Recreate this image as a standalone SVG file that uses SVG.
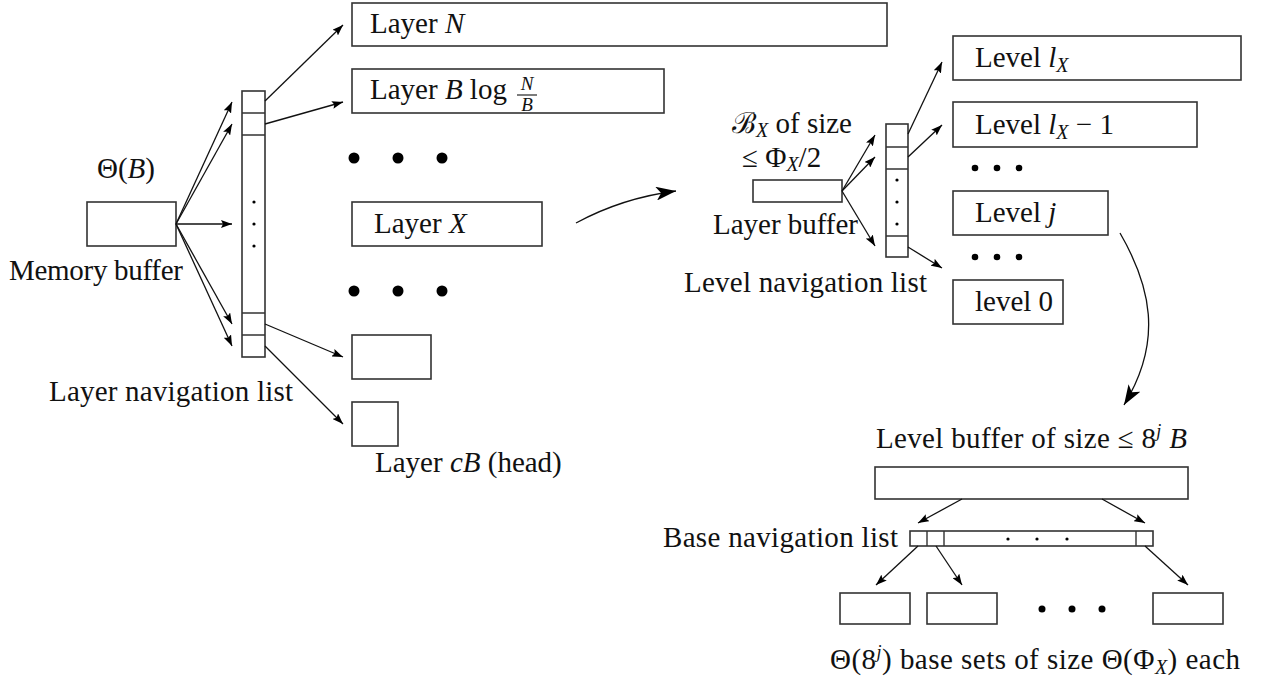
<svg xmlns="http://www.w3.org/2000/svg" width="1268" height="679" viewBox="0 0 1268 679">
<style>
text{font-family:"Liberation Serif","Times New Roman","DejaVu Serif",serif;font-size:29px;fill:#111}
.i{font-style:italic}
.sub{font-style:italic;font-size:20px}
.sup{font-style:italic;font-size:18px}
.frac{font-style:italic;font-size:19px}
.box{fill:#fff;stroke:#333;stroke-width:1.6}
.cell{fill:none;stroke:#333;stroke-width:1.4}
.ln{fill:none;stroke:#111;stroke-width:1.3}
.dot{fill:#000}
</style>
<defs>
<marker id="ah" viewBox="0 0 11 8" refX="11" refY="4" markerWidth="11" markerHeight="8" markerUnits="userSpaceOnUse" orient="auto"><path d="M0,0 L11,4 L0,8 L2,4 z" fill="#000"/></marker>
<marker id="big" viewBox="0 0 20 14" refX="20" refY="7" markerWidth="20" markerHeight="14" markerUnits="userSpaceOnUse" orient="auto"><path d="M0,0 L20,7 L0,14 L5,7 z" fill="#000"/></marker>
</defs>

<g id="memory-buffer">
<rect class="box" x="87" y="202" width="89" height="44"/>
<text x="97" y="178">Θ(<tspan class="i">B</tspan>)</text>
<text x="9" y="280" textLength="174">Memory buffer</text>
</g>

<g id="layer-navigation-list">
<rect class="box" x="242" y="91" width="23" height="266"/>
<path class="cell" d="M242,113H265M242,135H265M242,313H265M242,335H265"/>
<circle class="dot" cx="254" cy="202" r="1.6"/>
<circle class="dot" cx="254" cy="224" r="1.6"/>
<circle class="dot" cx="254" cy="246" r="1.6"/>
<text x="49" y="401" textLength="244">Layer navigation list</text>
</g>

<g id="layer-n">
<rect class="box" x="352" y="3" width="535" height="43"/>
<text x="370" y="33">Layer <tspan class="i">N</tspan></text>
</g>

<g id="layer-blog">
<rect class="box" x="352" y="69" width="312" height="44"/>
<text x="370" y="99">Layer <tspan class="i">B</tspan> log</text>
<text x="527" y="90" text-anchor="middle" class="frac">N</text>
<line x1="517" y1="95" x2="537" y2="95" stroke="#111" stroke-width="1.1"/>
<text x="527" y="111" text-anchor="middle" class="frac">B</text>
</g>

<g id="dots-layers">
<circle class="dot" cx="354" cy="158" r="5.5"/>
<circle class="dot" cx="398" cy="158" r="5.5"/>
<circle class="dot" cx="442" cy="158" r="5.5"/>
<circle class="dot" cx="354" cy="291" r="5.5"/>
<circle class="dot" cx="398" cy="291" r="5.5"/>
<circle class="dot" cx="442" cy="291" r="5.5"/>
</g>

<g id="layer-x">
<rect class="box" x="352" y="202" width="190" height="44"/>
<text x="374" y="233">Layer <tspan class="i">X</tspan></text>
</g>

<g id="layer-small">
<rect class="box" x="352" y="335" width="79" height="44"/>
</g>

<g id="layer-cb">
<rect class="box" x="352" y="402" width="46" height="44"/>
<text x="375" y="472">Layer <tspan class="i">cB</tspan> (head)</text>
</g>

<g id="layer-buffer">
<rect class="box" x="753" y="180" width="89" height="22"/>
<text x="732" y="133">ℬ<tspan class="sub" dy="4">X</tspan><tspan dy="-4"> of size</tspan></text>
<text x="742" y="167">≤ Φ<tspan class="sub" dy="4">X</tspan><tspan dy="-4">/2</tspan></text>
<text x="713" y="234" textLength="145">Layer buffer</text>
</g>

<g id="level-navigation-list">
<rect class="box" x="886" y="124" width="22" height="133"/>
<path class="cell" d="M886,147H908M886,169H908M886,236H908"/>
<circle class="dot" cx="897" cy="180" r="1.6"/>
<circle class="dot" cx="897" cy="202" r="1.6"/>
<circle class="dot" cx="897" cy="224" r="1.6"/>
<text x="684" y="292" textLength="243">Level navigation list</text>
</g>

<g id="level-lx">
<rect class="box" x="953" y="36" width="288" height="44"/>
<text x="975" y="67">Level <tspan class="i">l</tspan><tspan class="sub" dy="5">X</tspan></text>
</g>

<g id="level-lx-1">
<rect class="box" x="953" y="102" width="244" height="45"/>
<text x="975" y="134">Level <tspan class="i">l</tspan><tspan class="sub" dy="5">X</tspan><tspan dy="-5"> − 1</tspan></text>
</g>

<g id="dots-levels">
<circle class="dot" cx="975" cy="168" r="3.3"/>
<circle class="dot" cx="997" cy="168" r="3.3"/>
<circle class="dot" cx="1019" cy="168" r="3.3"/>
<circle class="dot" cx="975" cy="257" r="3.3"/>
<circle class="dot" cx="997" cy="257" r="3.3"/>
<circle class="dot" cx="1019" cy="257" r="3.3"/>
</g>

<g id="level-j">
<rect class="box" x="953" y="191" width="155" height="44"/>
<text x="975" y="222">Level <tspan class="i">j</tspan></text>
</g>

<g id="level-0">
<rect class="box" x="953" y="280" width="110" height="44"/>
<text x="975" y="311">level 0</text>
</g>

<g id="level-buffer">
<rect class="box" x="875" y="467" width="313" height="32"/>
<text x="876" y="448" textLength="311">Level buffer of size ≤ 8<tspan class="sup" dy="-11">j</tspan><tspan class="i" dy="11"> B</tspan></text>
</g>

<g id="base-navigation-list">
<rect class="box" x="910" y="531" width="243" height="15"/>
<path class="cell" d="M927,531V546M944,531V546M1136,531V546"/>
<circle class="dot" cx="1008" cy="539" r="1.6"/>
<circle class="dot" cx="1037" cy="539" r="1.6"/>
<circle class="dot" cx="1067" cy="539" r="1.6"/>
<text x="663" y="547" textLength="235">Base navigation list</text>
</g>

<g id="base-sets">
<rect class="box" x="840" y="593" width="70" height="31"/>
<rect class="box" x="927" y="593" width="70" height="31"/>
<rect class="box" x="1153" y="593" width="70" height="31"/>
<circle class="dot" cx="1042" cy="609" r="3.5"/>
<circle class="dot" cx="1072" cy="609" r="3.5"/>
<circle class="dot" cx="1102" cy="609" r="3.5"/>
<text x="830" y="669" textLength="410">Θ(8<tspan class="sup" dy="-11">j</tspan><tspan dy="11">) base sets of size Θ(Φ</tspan><tspan class="sub" dy="5">X</tspan><tspan dy="-5">) each</tspan></text>
</g>

<g id="connectors">
<line class="ln" x1="176" y1="224" x2="232" y2="102" marker-end="url(#ah)"/>
<line class="ln" x1="176" y1="224" x2="232" y2="124" marker-end="url(#ah)"/>
<line class="ln" x1="176" y1="224" x2="232" y2="224" marker-end="url(#ah)"/>
<line class="ln" x1="176" y1="224" x2="232" y2="324" marker-end="url(#ah)"/>
<line class="ln" x1="176" y1="224" x2="232" y2="346" marker-end="url(#ah)"/>
<line class="ln" x1="265" y1="101" x2="343" y2="25" marker-end="url(#ah)"/>
<line class="ln" x1="265" y1="124" x2="343" y2="102" marker-end="url(#ah)"/>
<line class="ln" x1="265" y1="324" x2="343" y2="357" marker-end="url(#ah)"/>
<line class="ln" x1="265" y1="346" x2="343" y2="424" marker-end="url(#ah)"/>
<path class="ln" d="M576,223 Q622,198 676,191" marker-end="url(#big)"/>
<line class="ln" x1="842" y1="191" x2="875" y2="135" marker-end="url(#ah)"/>
<line class="ln" x1="842" y1="191" x2="875" y2="157" marker-end="url(#ah)"/>
<line class="ln" x1="842" y1="191" x2="875" y2="246" marker-end="url(#ah)"/>
<line class="ln" x1="908" y1="134" x2="942" y2="62" marker-end="url(#ah)"/>
<line class="ln" x1="908" y1="157" x2="942" y2="125" marker-end="url(#ah)"/>
<line class="ln" x1="908" y1="247" x2="942" y2="268" marker-end="url(#ah)"/>
<path class="ln" d="M1120,233 C1150,285 1164,340 1124,405" marker-end="url(#big)"/>
<line class="ln" x1="962" y1="499" x2="918" y2="523" marker-end="url(#ah)"/>
<line class="ln" x1="1102" y1="499" x2="1145" y2="523" marker-end="url(#ah)"/>
<line class="ln" x1="918" y1="546" x2="876" y2="585" marker-end="url(#ah)"/>
<line class="ln" x1="936" y1="546" x2="962" y2="585" marker-end="url(#ah)"/>
<line class="ln" x1="1145" y1="546" x2="1188" y2="585" marker-end="url(#ah)"/>
</g>
</svg>
